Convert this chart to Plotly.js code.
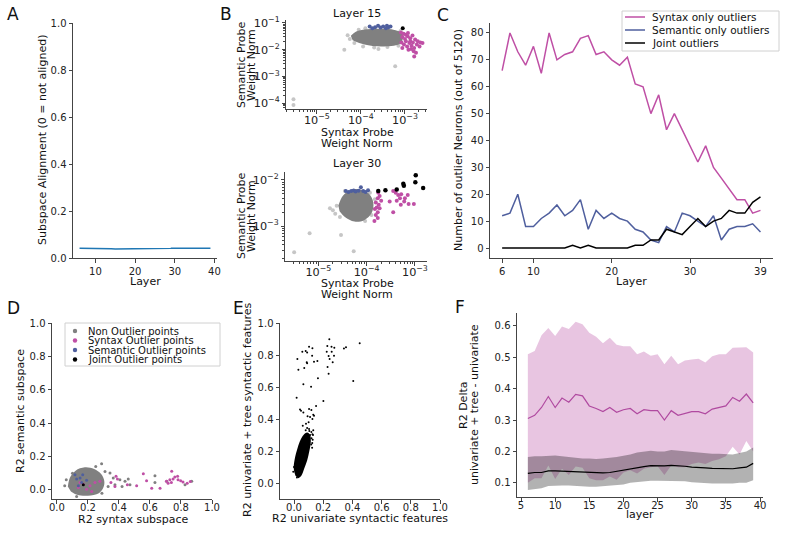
<!DOCTYPE html>
<html>
<head>
<meta charset="utf-8">
<script src="https://cdn.plot.ly/plotly-3.0.1.min.js"></script>
<style>
  html, body { margin: 0; padding: 0; background: #fff; }
  #fig { width: 785px; height: 543px; }
</style>
</head>
<body>
<div id="fig"></div>
<script>
// ---- data ----
const layers = [6, 7, 8, 9, 10, 11, 12, 13, 14, 15, 16, 17, 18, 19, 20, 21, 22,
                23, 24, 25, 26, 27, 28, 29, 30, 31, 32, 33, 34, 35, 36, 37, 38, 39];

// A: subspace alignment per layer
const alignment = [0.042, 0.042, 0.041, 0.041, 0.041, 0.040, 0.040, 0.039, 0.039, 0.038, 0.038, 0.039,
                   0.039, 0.039, 0.039, 0.040, 0.040, 0.040, 0.041, 0.041, 0.041, 0.041, 0.041, 0.041,
                   0.042, 0.042, 0.042, 0.042, 0.043, 0.043, 0.043, 0.043, 0.042, 0.041];

// B (layer 15): probe weight norms
const l15CloudX = [5.9e-5, 7.8e-5, 1.7e-4, 5.75e-4, 8.9e-4, 8.1e-4, 3.4e-4, 1.2e-4, 6.5e-5];
const l15CloudY = [3.3e-2, 4.8e-2, 5.9e-2, 5.5e-2, 3.9e-2, 1.78e-2, 1.32e-2, 1.55e-2, 2.24e-2];
const l15HaloX = [5.0e-5, 5.6e-5, 7.1e-5, 1.12e-4, 2.0e-4, 4.0e-4, 7.1e-4, 8.9e-5, 1.26e-4, 7.9e-4, 2.5e-4];
const l15HaloY = [3.5e-2, 2.5e-2, 1.78e-2, 1.32e-2, 1.2e-2, 1.26e-2, 1.41e-2, 5.6e-2, 6.3e-2, 5.0e-2, 1.05e-2];
const l15SparseX = [2.95e-6, 2.95e-6, 6.0e-4, 4.2e-5];
const l15SparseY = [1.41e-4, 8.5e-5, 2.4e-3, 1.0e-2];
const l15SynX = [8.1e-4, 9.3e-4, 1.05e-3, 1.17e-3, 8.7e-4, 1.0e-3, 1.15e-3, 1.32e-3, 1.48e-3, 1.7e-3,
                 1.95e-3, 2.24e-3, 2.5e-3, 8.3e-4, 9.5e-4, 1.12e-3, 1.26e-3, 1.41e-3, 1.62e-3, 1.58e-3,
                 1.78e-3, 1.62e-3, 1.38e-3, 1.86e-3, 2.14e-3, 1.2e-3, 8.7e-4, 1.05e-3, 1.32e-3, 1.51e-3];
const l15SynY = [4.4e-2, 3.9e-2, 3.6e-2, 4.2e-2, 2.95e-2, 2.5e-2, 3.2e-2, 2.7e-2, 3.4e-2, 2.4e-2,
                 2.05e-2, 1.86e-2, 1.78e-2, 1.86e-2, 1.55e-2, 1.32e-2, 1.78e-2, 1.41e-2, 1.15e-2, 8.7e-3,
                 7.6e-3, 5.6e-3, 1.05e-2, 1.55e-2, 1.32e-2, 1.0e-2, 1.15e-2, 2.05e-2, 2.05e-2, 1.86e-2];
const l15SemX = [1.58e-4, 1.82e-4, 2.1e-4, 2.45e-4, 2.8e-4, 3.2e-4, 3.7e-4, 4.2e-4, 4.7e-4, 3.9e-4];
const l15SemY = [7.3e-2, 6.3e-2, 6.9e-2, 7.8e-2, 6.8e-2, 7.3e-2, 6.3e-2, 6.9e-2, 7.3e-2, 7.9e-2];
const l15JointX = [8.9e-4];
const l15JointY = [6.3e-2];

// B (layer 30)
const l30CloudX = [2.6e-5, 3.2e-5, 4.5e-5, 7.1e-5, 1.12e-4, 1.38e-4, 1.26e-4, 8.9e-5, 5.6e-5, 3.55e-5, 2.75e-5];
const l30CloudY = [2.8e-3, 4.5e-3, 6.0e-3, 6.3e-3, 5.0e-3, 3.16e-3, 1.9e-3, 1.35e-3, 1.26e-3, 1.58e-3, 2.1e-3];
const l30HaloX = [1.74e-5, 2.0e-5, 2.4e-5, 2.24e-5, 2.8e-5, 1.26e-4, 1.48e-4, 1.17e-4, 3.55e-5, 9.3e-5];
const l30HaloY = [2.45e-3, 2.2e-3, 2.75e-3, 1.86e-3, 1.58e-3, 1.74e-3, 3.8e-3, 5.25e-3, 5.75e-3, 1.29e-3];
const l30SparseX = [3.16e-6, 6.6e-6, 2.95e-5, 5.4e-5];
const l30SparseY = [2.75e-4, 7.1e-4, 6.5e-4, 2.9e-4];
const l30SynX = [1.74e-4, 1.86e-4, 1.7e-4, 2.0e-4, 1.55e-4, 1.78e-4, 1.62e-4, 1.48e-4, 1.86e-4, 1.7e-4,
                 1.55e-4, 1.7e-4, 1.45e-4, 3.55e-4, 4.0e-4, 4.5e-4, 5.2e-4, 4.9e-4, 6.2e-4, 7.1e-4,
                 6.0e-4, 7.4e-4, 9.5e-4, 5.1e-4, 4.2e-4, 3.55e-4, 3.0e-4];
const l30SynY = [5.25e-3, 4.5e-3, 4.0e-3, 3.55e-3, 3.25e-3, 2.9e-3, 2.55e-3, 2.36e-3, 2.45e-3, 2.0e-3,
                 1.74e-3, 1.51e-3, 1.29e-3, 5.75e-3, 5.25e-3, 4.7e-3, 4.9e-3, 4.0e-3, 4.0e-3, 4.7e-3,
                 3.4e-3, 3.0e-3, 3.0e-3, 2.9e-3, 3.55e-3, 2.0e-3, 3.4e-3];
const l30SemX = [3.7e-5, 4.2e-5, 4.8e-5, 5.4e-5, 5.9e-5, 6.8e-5, 7.6e-5, 8.5e-5, 1.07e-4, 9.5e-5];
const l30SemY = [5.75e-3, 5.5e-3, 5.75e-3, 5.9e-3, 5.6e-3, 5.8e-3, 6.9e-3, 5.75e-3, 6.0e-3, 5.5e-3];
const l30JointX = [1.74e-4, 2.45e-4, 4.2e-4, 5.75e-4, 5.9e-4, 1.02e-3, 1.04e-3, 1.48e-3];
const l30JointY = [5.75e-3, 6.0e-3, 6.2e-3, 8.3e-3, 7.5e-3, 8.9e-3, 1.26e-2, 6.7e-3];

// C: outlier neuron counts per layer
const syntaxOnly = [66, 80, 73, 68, 75, 65, 80, 70, 72, 73, 78, 79, 72, 73, 70, 68, 71,
                    61, 60, 50, 57, 44, 50, 44, 38, 32, 38, 30, 26, 22, 18, 18, 13, 14];
const semanticOnly = [12, 13, 20, 8, 8, 11, 13, 16, 12, 14, 18, 7, 14, 11, 13, 11, 10,
                      7, 6, 3, 2, 8, 6, 13, 12, 10, 8, 12, 3, 7, 8, 8, 9, 6];
const jointOut = [0, 0, 0, 0, 0, 0, 0, 0, 0, 1, 0, 1, 0, 0, 0, 0, 0,
                  1, 1, 3, 3, 7, 6, 5, 8, 11, 8, 10, 11, 14, 13, 13, 17, 19];

// D: R2 of syntax vs semantic subspace
const dCloudX = [0.07, 0.085, 0.12, 0.18, 0.24, 0.285, 0.305, 0.30, 0.27, 0.20, 0.13, 0.09];
const dCloudY = [0.02, 0.075, 0.115, 0.135, 0.125, 0.095, 0.055, 0.015, -0.02, -0.035, -0.03, -0.01];
const dNonX = [0.288, 0.342, 0.363, 0.406, 0.439, 0.46, 0.471, 0.374, 0.42, 0.632, 0.632, 0.708, 0.826,
               0.869, 0.05, 0.127, 0.31, 0.33, 0.06, 0.29, 0.25, 0.1];
const dNonY = [0.157, 0.101, 0.071, 0.061, 0.051, 0.065, 0.03, 0.03, 0.02, 0.085, 0.044, 0.051, 0.03,
               0.051, 0.024, -0.04, 0.11, 0.02, 0.06, -0.02, 0.14, 0.1];
const dSynX = [0.557, 0.578, 0.611, 0.665, 0.74, 0.706, 0.728, 0.749, 0.76, 0.778, 0.781, 0.798, 0.813,
               0.717, 0.738, 0.381, 0.39, 0.374, 0.454, 0.514, 0.348, 0.138, 0.17, 0.213, 0.245, 0.277,
               0.191, 0.149, 0.224, 0.84, 0.86];
const dSynY = [0.097, 0.055, 0.01, 0.01, 0.111, 0.051, 0.061, 0.065, 0.077, 0.081, 0.061, 0.055, 0.047,
               0.04, 0.044, 0.081, 0.065, 0.02, 0.03, 0.024, 0.044, 0.014, 0.034, 0.024, 0.044, 0.051,
               0.004, 0.044, -0.01, 0.04, 0.05];
const dSemX = [0.116, 0.127, 0.149, 0.166, 0.159, 0.191, 0.138];
const dSemY = [0.091, 0.065, 0.071, 0.091, 0.044, 0.057, 0.024];
const dJointX = [0.17];
const dJointY = [0.03];

// E: univariate vs univariate + tree R2
const eCloudX = [0.03, 0.05, 0.07, 0.09, 0.105, 0.115, 0.11, 0.09, 0.065, 0.045, 0.025, 0.005, -0.002, 0.01];
const eCloudY = [0.03, 0.045, 0.09, 0.14, 0.2, 0.26, 0.30, 0.315, 0.30, 0.27, 0.22, 0.15, 0.09, 0.045];
const eX = [0.45, 0.242, 0.228, 0.257, 0.276, 0.356, 0.342, 0.224, 0.258, 0.237, 0.274, 0.244, 0.265,
            0.23, 0.237, 0.406, 0.023, 0.03, 0.057, 0.08, 0.09, 0.103, 0.126, 0.087, 0.09, 0.07,
            0.137, 0.16, 0.124, 0.164, 0.064, 0.117, 0.018, 0.201, 0.151, 0.041, 0.048, 0.064, 0.103,
            0.119, 0.093, 0.11, 0.132, 0.126, 0.137, 0.082, 0.1, 0.06, 0.09, 0.119, 0.132, 0.126,
            0.103, 0.124, 0.11, 0.12, 0.125, 0.0, -0.005, 0.13, 0.08, 0.105, 0.02, 0.118, 0.128];
const eY = [0.873, 0.898, 0.856, 0.852, 0.846, 0.848, 0.84, 0.821, 0.821, 0.794, 0.796, 0.775, 0.754,
            0.725, 0.683, 0.638, 0.775, 0.708, 0.821, 0.825, 0.815, 0.852, 0.842, 0.754, 0.748, 0.719,
            0.758, 0.762, 0.796, 0.654, 0.617, 0.602, 0.533, 0.512, 0.481, 0.46, 0.452, 0.44, 0.463,
            0.456, 0.417, 0.413, 0.427, 0.40, 0.421, 0.371, 0.379, 0.358, 0.344, 0.319, 0.329, 0.304,
            0.338, 0.221, 0.30, 0.28, 0.25, 0.10, 0.07, 0.30, 0.33, 0.325, 0.035, 0.24, 0.27];

// F: R2 delta per layer (mean and band), outliers (pink) vs rest (black)
const outMean = [0.305, 0.315, 0.34, 0.375, 0.34, 0.37, 0.357, 0.382, 0.377, 0.345, 0.337, 0.327,
                 0.34, 0.325, 0.333, 0.337, 0.32, 0.333, 0.33, 0.33, 0.30, 0.33, 0.315, 0.32, 0.327,
                 0.327, 0.32, 0.335, 0.34, 0.345, 0.372, 0.36, 0.383, 0.355];
const outUpper = [0.51, 0.52, 0.57, 0.593, 0.568, 0.598, 0.59, 0.613, 0.605, 0.578, 0.565, 0.545,
                  0.562, 0.54, 0.535, 0.535, 0.51, 0.518, 0.505, 0.51, 0.478, 0.505, 0.478, 0.49, 0.493,
                  0.495, 0.483, 0.503, 0.51, 0.51, 0.53, 0.532, 0.532, 0.515];
const outLower = [0.10, 0.115, 0.115, 0.155, 0.112, 0.145, 0.125, 0.152, 0.148, 0.115, 0.108, 0.108,
                  0.12, 0.11, 0.133, 0.14, 0.13, 0.145, 0.15, 0.153, 0.125, 0.155, 0.15, 0.15, 0.16,
                  0.165, 0.16, 0.17, 0.175, 0.185, 0.215, 0.19, 0.233, 0.20];
const restMean = [0.13, 0.133, 0.133, 0.138, 0.138, 0.137, 0.137, 0.135, 0.135, 0.132, 0.131, 0.132,
                  0.133, 0.137, 0.14, 0.146, 0.15, 0.152, 0.155, 0.154, 0.154, 0.156, 0.155, 0.153,
                  0.15, 0.15, 0.148, 0.146, 0.146, 0.145, 0.145, 0.148, 0.15, 0.162];
const restUpper = [0.182, 0.185, 0.185, 0.187, 0.187, 0.185, 0.182, 0.18, 0.178, 0.178, 0.176, 0.178,
                   0.179, 0.182, 0.186, 0.19, 0.197, 0.2, 0.202, 0.2, 0.2, 0.205, 0.203, 0.199, 0.197,
                   0.197, 0.195, 0.193, 0.193, 0.192, 0.19, 0.195, 0.2, 0.213];
const restLower = [0.077, 0.08, 0.083, 0.09, 0.092, 0.092, 0.092, 0.09, 0.09, 0.088, 0.088, 0.09,
                   0.09, 0.093, 0.095, 0.10, 0.103, 0.105, 0.107, 0.107, 0.107, 0.107, 0.107, 0.105,
                   0.102, 0.10, 0.10, 0.098, 0.098, 0.097, 0.098, 0.10, 0.10, 0.108];

// ---- styling ----
const W = 785, H = 543;
const FONT = 'DejaVu Sans';
const PINK = '#bf4fa5';
const BLUE = '#4f5f9e';
const GRAY = '#808080';
const LIGHT = '#c6c6c6';
const AX = '#444';

function xd(a, b) { return [a / W, b / W]; }
function yd(top, bottom) { return [1 - bottom / H, 1 - top / H]; }

function axis(extra) {
    return Object.assign({
        showline: true, linecolor: AX, linewidth: 1,
        ticks: 'outside', ticklen: 3.5, tickcolor: AX, tickwidth: 1,
        showgrid: false, zeroline: false, mirror: false,
        tickfont: {family: FONT, size: 10, color: '#222'},
        fixedrange: true
    }, extra);
}
function logAxis(extra) {
    return axis(Object.assign({
        type: 'log', dtick: 1, exponentformat: 'power',
        tickfont: {family: FONT, size: 9, color: '#222'},
        minor: {ticks: 'outside', ticklen: 2, tickcolor: AX, dtick: 'D1', showgrid: false}
    }, extra));
}

function pts(x, y, xa, ya, color, size) {
    return {x: x, y: y, xaxis: xa, yaxis: ya, type: 'scatter', mode: 'markers',
            marker: {color: color, size: size, line: {width: 0}}, showlegend: false, hoverinfo: 'skip'};
}
function blob(x, y, xa, ya, color) {
    return {x: x, y: y, xaxis: xa, yaxis: ya, type: 'scatter', mode: 'lines', fill: 'toself',
            fillcolor: color, line: {width: 0, shape: 'spline', color: color},
            showlegend: false, hoverinfo: 'skip'};
}
function line(x, y, xa, ya, color, width) {
    return {x: x, y: y, xaxis: xa, yaxis: ya, type: 'scatter', mode: 'lines',
            line: {color: color, width: width}, showlegend: false, hoverinfo: 'skip'};
}

const traces = [
    // A
    line(layers, alignment, 'x', 'y', '#1f77b4', 1.5),
    // B layer 15
    pts(l15HaloX, l15HaloY, 'x2', 'y2', LIGHT, 4),
    pts(l15SparseX, l15SparseY, 'x2', 'y2', LIGHT, 4),
    blob(l15CloudX, l15CloudY, 'x2', 'y2', GRAY),
    pts(l15SynX, l15SynY, 'x2', 'y2', PINK, 4),
    pts(l15SemX, l15SemY, 'x2', 'y2', BLUE, 4),
    pts(l15JointX, l15JointY, 'x2', 'y2', '#000', 4),
    // B layer 30
    pts(l30HaloX, l30HaloY, 'x3', 'y3', LIGHT, 4),
    pts(l30SparseX, l30SparseY, 'x3', 'y3', LIGHT, 4),
    blob(l30CloudX, l30CloudY, 'x3', 'y3', GRAY),
    pts(l30SynX, l30SynY, 'x3', 'y3', PINK, 4),
    pts(l30SemX, l30SemY, 'x3', 'y3', BLUE, 4),
    pts(l30JointX, l30JointY, 'x3', 'y3', '#000', 4.5),
    // C
    line(layers, syntaxOnly, 'x4', 'y4', PINK, 1.5),
    line(layers, semanticOnly, 'x4', 'y4', BLUE, 1.5),
    line(layers, jointOut, 'x4', 'y4', '#000', 1.5),
    // D
    blob(dCloudX, dCloudY, 'x5', 'y5', GRAY),
    pts(dNonX, dNonY, 'x5', 'y5', GRAY, 3),
    pts(dSynX, dSynY, 'x5', 'y5', PINK, 3),
    pts(dSemX, dSemY, 'x5', 'y5', BLUE, 3),
    pts(dJointX, dJointY, 'x5', 'y5', '#000', 3),
    // E
    blob(eCloudX, eCloudY, 'x6', 'y6', '#000'),
    pts(eX, eY, 'x6', 'y6', '#000', 2),
    // F bands
    line(layers, outLower, 'x7', 'y7', 'rgba(0,0,0,0)', 0),
    Object.assign(line(layers, outUpper, 'x7', 'y7', 'rgba(0,0,0,0)', 0),
                  {fill: 'tonexty', fillcolor: 'rgba(185,80,165,0.33)'}),
    line(layers, restLower, 'x7', 'y7', 'rgba(0,0,0,0)', 0),
    Object.assign(line(layers, restUpper, 'x7', 'y7', 'rgba(0,0,0,0)', 0),
                  {fill: 'tonexty', fillcolor: 'rgba(0,0,0,0.3)'}),
    line(layers, outMean, 'x7', 'y7', '#b04aa0', 1.2),
    line(layers, restMean, 'x7', 'y7', '#000', 1.2)
];

// ---- annotations: panel letters, titles, axis titles, legends ----
function txt(text, px, py, size, opts) {
    return Object.assign({
        text: text, xref: 'paper', yref: 'paper', x: px / W, y: 1 - py / H,
        xanchor: 'center', yanchor: 'middle', showarrow: false,
        font: {family: FONT, size: size, color: '#111'}
    }, opts || {});
}
function vtxt(text, px, py, size) {
    return txt(text, px, py, size, {textangle: -90});
}

const annotations = [
    txt('A', 13, 14, 17), txt('B', 226, 14, 17), txt('C', 443, 15, 17),
    txt('D', 13, 308, 17), txt('E', 238, 308, 17), txt('F', 460, 307, 17),
    txt('Layer 15', 357, 13, 11), txt('Layer 30', 357, 163, 11),
    txt('Layer', 145, 281, 11),
    vtxt('Subspace Alignment (0 = not aligned)', 42, 140, 11),
    // B axis titles, one annotation per line for tight spacing
    txt('Syntax Probe', 357, 132, 11), txt('Weight Norm', 357, 143, 11),
    vtxt('Semantic Probe', 241, 65, 11), vtxt('Weight Norm', 251, 65, 11),
    txt('Syntax Probe', 357, 283, 11), txt('Weight Norm', 357, 294, 11),
    vtxt('Semantic Probe', 241, 216, 11), vtxt('Weight Norm', 251, 216, 11),
    txt('Layer', 631, 281, 11),
    vtxt('Number of outlier Neurons (out of 5120)', 458, 140, 11),
    txt('R2 syntax subspace', 133, 519, 11),
    vtxt('R2 semantic subspace', 20, 411, 11),
    txt('R2 univariate syntactic features', 360, 518, 11),
    vtxt('R2 univariate + tree syntactic features', 247, 410, 11),
    txt('layer', 640, 514, 11),
    vtxt('R2 Delta', 463, 405, 11),
    vtxt('univariate + tree - univariate', 474, 405, 11),
    // legend C
    txt('Syntax only outliers', 650, 17, 10.5, {xanchor: 'left'}),
    txt('Semantic only outliers', 650, 30, 10.5, {xanchor: 'left'}),
    txt('Joint outliers', 650, 43, 10.5, {xanchor: 'left'}),
    // legend D
    txt('Non Outlier points', 86, 331, 10, {xanchor: 'left'}),
    txt('Syntax Outlier points', 86, 340.5, 10, {xanchor: 'left'}),
    txt('Semantic Outlier points', 86, 350, 10, {xanchor: 'left'}),
    txt('Joint Outlier points', 86, 359.5, 10, {xanchor: 'left'})
];

function pline(x0, x1, py, color) {
    return {type: 'line', xref: 'paper', yref: 'paper', x0: x0 / W, x1: x1 / W,
            y0: 1 - py / H, y1: 1 - py / H, line: {color: color, width: 1.5}};
}
function pdot(px, py, color) {
    const r = 2.2;
    return {type: 'circle', xref: 'paper', yref: 'paper', x0: (px - r) / W, x1: (px + r) / W,
            y0: 1 - (py + r) / H, y1: 1 - (py - r) / H, fillcolor: color, line: {width: 0}};
}
function pbox(x0, y0, x1, y1) {
    return {type: 'rect', xref: 'paper', yref: 'paper', x0: x0 / W, x1: x1 / W,
            y0: 1 - y1 / H, y1: 1 - y0 / H, fillcolor: 'rgba(255,255,255,0.85)',
            line: {color: '#d0d0d0', width: 1}, layer: 'above'};
}

const shapes = [
    pbox(622, 11, 779, 51),
    pline(625, 645, 17, PINK), pline(625, 645, 30, BLUE), pline(625, 645, 43, '#000'),
    pbox(65, 323, 220, 366),
    pdot(75, 331, GRAY), pdot(75, 340.5, PINK), pdot(75, 350, BLUE), pdot(75, 359.5, '#000')
];

const layout = {
    width: W, height: H,
    margin: {l: 0, r: 0, t: 0, b: 0},
    paper_bgcolor: '#fff', plot_bgcolor: 'rgba(0,0,0,0)',
    showlegend: false,
    font: {family: FONT, size: 10, color: '#222'},
    xaxis: axis({domain: xd(73, 217), anchor: 'y', range: [4.35, 40.65], tickvals: [10, 20, 30, 40]}),
    yaxis: axis({domain: yd(23, 258), anchor: 'x', range: [0, 1], dtick: 0.2, tickformat: '.1f'}),
    xaxis2: logAxis({domain: xd(286, 427), anchor: 'y2', range: [-5.7, -2.5], ticklabelstandoff: -3}),
    yaxis2: logAxis({domain: yd(20, 109), anchor: 'x2', range: [-4.22, -0.89]}),
    xaxis3: logAxis({domain: xd(285, 427), anchor: 'y3', range: [-5.69, -2.75], ticklabelstandoff: -3}),
    yaxis3: logAxis({domain: yd(172, 261), anchor: 'x3', range: [-3.75, -1.83]}),
    xaxis4: axis({domain: xd(490, 773), anchor: 'y4', range: [4.45, 40.6], tickvals: [6, 10, 20, 30, 39]}),
    yaxis4: axis({domain: yd(23, 258), anchor: 'x4', range: [-3.7, 83.7], dtick: 10}),
    xaxis5: axis({domain: xd(52, 212), anchor: 'y5', range: [-0.032, 1.0], dtick: 0.2, tickformat: '.1f',
                  ticklabelstandoff: -5}),
    yaxis5: axis({domain: yd(323, 499), anchor: 'x5', range: [-0.055, 1.0], dtick: 0.2, tickformat: '.1f'}),
    xaxis6: axis({domain: xd(280, 440), anchor: 'y6', range: [-0.096, 1.0], tickvals: [0, 0.2, 0.4, 0.6, 0.8, 1.0],
                  tickformat: '.1f', ticklabelstandoff: -5}),
    yaxis6: axis({domain: yd(323, 499), anchor: 'x6', range: [-0.1, 1.0], tickvals: [0, 0.2, 0.4, 0.6, 0.8, 1.0], tickformat: '.1f'}),
    xaxis7: axis({domain: xd(517, 763), anchor: 'y7', range: [4.41, 40.44], dtick: 5, ticklabelstandoff: -5}),
    yaxis7: axis({domain: yd(313, 497), anchor: 'x7', range: [0.055, 0.641], tickvals: [0.1, 0.2, 0.3, 0.4, 0.5, 0.6], tickformat: '.1f'}),
    annotations: annotations,
    shapes: shapes
};

Plotly.newPlot('fig', traces, layout, {displayModeBar: false, staticPlot: true});
</script>
</body>
</html>
